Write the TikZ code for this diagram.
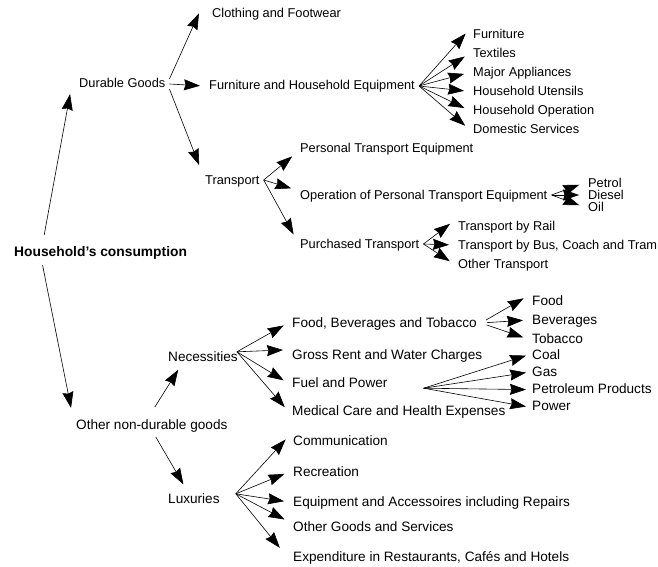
\documentclass[tikz,border=0pt]{standalone}
\usepackage{fontspec}
\setmainfont{Liberation Sans}
\usetikzlibrary{arrows.meta,positioning}

\begin{document}
\begin{tikzpicture}[x=1pt,y=-1pt,node distance=19pt,on grid,
    every node/.style={anchor=west,inner xsep=4pt,inner ysep=1pt,text height=8pt,text depth=0pt,
      font=\fontsize{12.8}{15}\selectfont},
    arr/.style={-{Stealth[length=16pt,width=11pt,inset=1.5pt]},line width=0.6pt,shorten >=5pt}]
  \useasboundingbox (0,0) rectangle (658,567);

  \node (hh) at (10,252) [font=\fontsize{13.8}{16}\selectfont\bfseries] {Household's consumption};

  % durable goods
  \node (durable) at (75,84) {Durable Goods};
  \node (clothing) at (208,14) {Clothing and Footwear};
  \node (furnhh) at (205,86) {Furniture and Household Equipment};
  \node (transport) at (201,180) {Transport};

  \node (furniture) at (469,35) {Furniture};
  \node (textiles) [below=18.8pt of furniture.west,anchor=west] {Textiles};
  \node (appliances) [below=18.8pt of textiles.west,anchor=west] {Major Appliances};
  \node (utensils) [below=18.8pt of appliances.west,anchor=west] {Household Utensils};
  \node (operation) [below=18.8pt of utensils.west,anchor=west] {Household Operation};
  \node (domestic) [below=18.8pt of operation.west,anchor=west] {Domestic Services};

  \node (personal) at (296,148) {Personal Transport Equipment};
  \node (optrans) at (296,195) {Operation of Personal Transport Equipment};
  \node (purchased) at (296,244) {Purchased Transport};

  \node (petrol) at (584,183) {Petrol};
  \node (diesel) [below=12pt of petrol.west,anchor=west] {Diesel};
  \node (oil) [below=12pt of diesel.west,anchor=west] {Oil};

  \node (rail) at (454,226) {Transport by Rail};
  \node (bus) [below=of rail.west,anchor=west] {Transport by Bus, Coach and Tram};
  \node (othertr) [below=of bus.west,anchor=west] {Other Transport};

  % non-durable goods
  \begin{scope}[every node/.append style={font=\fontsize{13.6}{16}\selectfont}]
    \node (other) at (72,425) {Other non-durable goods};
    \node (necess) at (164,357) {Necessities};
    \node (luxury) at (164,499) {Luxuries};

    \node (food) at (288,323) {Food, Beverages and Tobacco};
    \node (rent) [below=32pt of food.west,anchor=west] {Gross Rent and Water Charges};
    \node (fuel) [below=28pt of rent.west,anchor=west] {Fuel and Power};
    \node (medical) [below=28pt of fuel.west,anchor=west] {Medical Care and Health Expenses};

    \node (fooditem) at (528,301) {Food};
    \node (beverages) [below=of fooditem.west,anchor=west] {Beverages};
    \node (tobacco) [below=of beverages.west,anchor=west] {Tobacco};

    \node (coal) at (528,355) {Coal};
    \node (gas) [below=17.3pt of coal.west,anchor=west] {Gas};
    \node (petroleum) [below=17.3pt of gas.west,anchor=west] {Petroleum Products};
    \node (power) [below=17.3pt of petroleum.west,anchor=west] {Power};

    \node (communication) at (289,441) {Communication};
    \node (recreation) [below=31pt of communication.west,anchor=west] {Recreation};
    \node (equipment) [below=30pt of recreation.west,anchor=west] {Equipment and Accessoires including Repairs};
    \node (othergoods) [below=25pt of equipment.west,anchor=west] {Other Goods and Services};
    \node (restaurants) [below=30pt of othergoods.west,anchor=west] {Expenditure in Restaurants, Cafés and Hotels};
  \end{scope}

  \path[arr]
    ([xshift=32pt]hh.north west) edge [shorten <=12pt] ([xshift=-4pt]durable.south west)
    ([xshift=31pt]hh.south west) edge [shorten <=8pt] ([yshift=7pt]other.north west);

  \path[arr]
    (durable.north east) edge ([xshift=-7pt]clothing.north west)
    (durable.east) edge (furnhh.west)
    (durable.south east) edge ([yshift=5pt]transport.north west);

  \path[arr]
    (furnhh.east) edge (furniture.north west)
                  edge (textiles.west)
                  edge (appliances.west)
                  edge (utensils.west)
                  edge (operation.west)
                  edge (domestic.west);

  \path[arr]
    (transport.east) edge (personal.south west)
                     edge (optrans.north west)
                     edge (purchased.north west)
    (optrans.east) edge (petrol.west)
                   edge (diesel.west)
                   edge (oil.west)
    (purchased.east) edge (rail.north west)
                     edge (bus.west)
                     edge (othertr.west);

  \path[arr]
    ([xshift=-5pt]other.north) edge [shorten <=15pt,shorten >=9pt] ([xshift=19pt]necess.south west)
    (other.south) edge [shorten <=8pt,shorten >=11pt] ([xshift=-5pt]luxury.north);

  \path[arr]
    ([xshift=-5pt]necess.north east) edge (food.west)
                                     edge (rent.north west)
                                     edge (fuel.west)
                                     edge (medical.west);

  \path[arr,shorten <=6pt]
    (food.east) edge (fooditem.north west)
                edge (beverages.west)
                edge (tobacco.west);

  \path[arr,shorten >=2pt]
    ([xshift=32pt]fuel.south east) edge (coal.west)
                                   edge (gas.west)
                                   edge (petroleum.west)
                                   edge (power.west);

  \path[arr]
    ([xshift=12pt]luxury.north east) edge (communication.north west)
                                     edge (recreation.west)
                                     edge (equipment.west)
                                     edge (othergoods.north west)
                                     edge ([xshift=-6pt]restaurants.north west);
\end{tikzpicture}
\end{document}
